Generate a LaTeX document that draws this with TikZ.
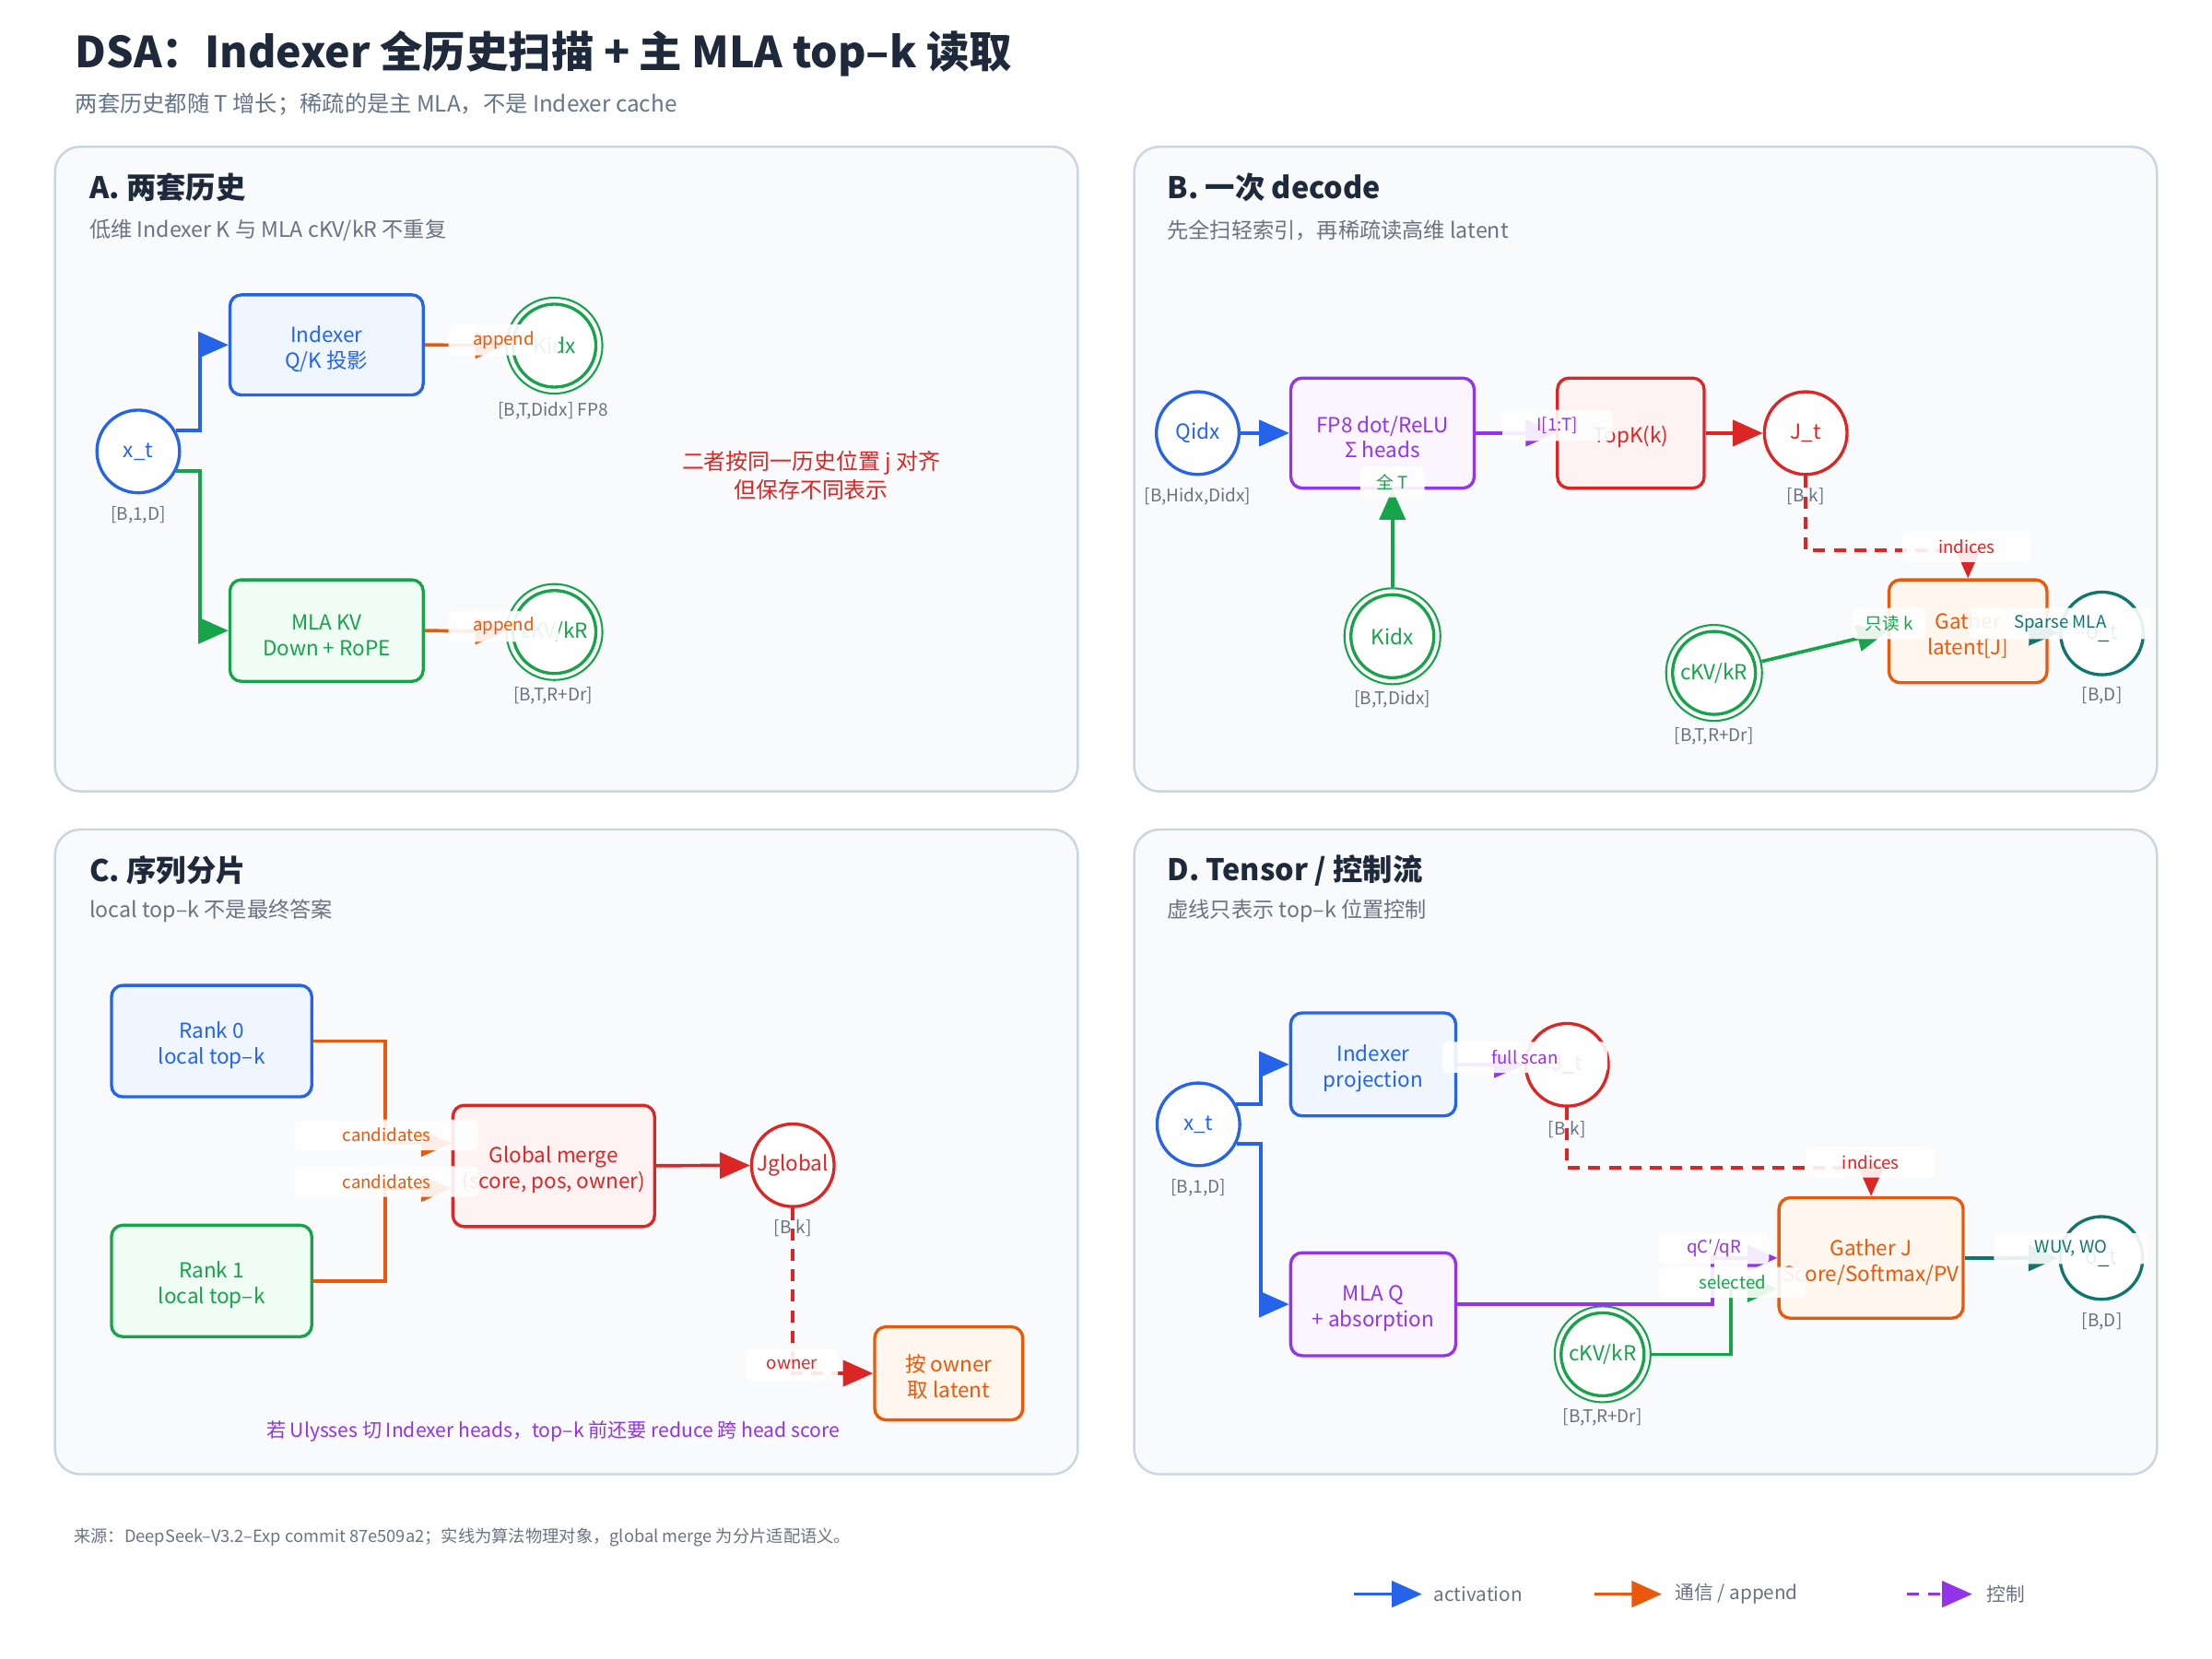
\documentclass[tikz,border=0pt]{standalone}
\usepackage{fontspec}
\setmainfont{Noto Sans CJK SC}
\usetikzlibrary{arrows.meta,calc}

\definecolor{cblue}{HTML}{2563EB}
\definecolor{cbluef}{HTML}{EFF6FF}
\definecolor{cgreen}{HTML}{16A34A}
\definecolor{cgreenf}{HTML}{F0FDF4}
\definecolor{cpurple}{HTML}{9333EA}
\definecolor{cpurplef}{HTML}{FAF5FF}
\definecolor{cred}{HTML}{DC2626}
\definecolor{credf}{HTML}{FEF2F2}
\definecolor{corange}{HTML}{EA580C}
\definecolor{corangef}{HTML}{FFF7ED}
\definecolor{cteal}{HTML}{0F766E}
\definecolor{ctitle}{HTML}{1E293B}
\definecolor{cmuted}{HTML}{64748B}
\definecolor{cdim}{HTML}{6B7280}
\definecolor{cpanel}{HTML}{F8FAFC}
\definecolor{cpanelline}{HTML}{CBD5E1}

\def\pxu{0.015306cm}
\newcommand{\setfs}[2]{\fontsize{#1pt}{#2pt}\selectfont}
% taller first line, so box texts sit a little below the box centre
\newcommand{\lift}{\rule{0pt}{7.6pt}}

\tikzset{
  nodefont/.style={font=\setfs{6.4}{7.9}},
  box/.style={draw, rounded corners=3.5pt, line width=0.95pt, align=center, inner sep=0pt, nodefont},
  bx/.style 2 args={minimum width=#1*\pxu, minimum height=#2*\pxu},
  tone/.style 2 args={draw=#1, fill=#2, text=#1},
  circ/.style={circle, draw, line width=0.95pt, fill=white, minimum size=58.6*\pxu, inner sep=0pt, nodefont},
  dcirc/.style={circle, draw, line width=0.6pt, fill=white, minimum size=68*\pxu, inner sep=0pt, nodefont},
  ring/.style={line width=0.95pt},
  dimlbl/.style={text=cdim, inner sep=0pt, font=\setfs{5.4}{6.5}},
  wire/.style={line width=1.05pt, -{Triangle[length=9.3pt,width=8pt]}},
  ctrl/.style={wire, dash pattern=on 3.7pt off 2.6pt},
  elbl/.style={fill=white, fill opacity=0.9, text opacity=1, rounded corners=1.7pt, minimum height=22*\pxu, inner sep=0pt, font=\setfs{5.3}{6.4}},
  lw/.style={minimum width=#1*13*\pxu},
  ptitle/.style={anchor=west, inner sep=0pt, text=ctitle, font=\bfseries\setfs{9.2}{11}},
  psub/.style={anchor=west, inner sep=0pt, text=cdim, font=\setfs{6.6}{8}},
  panel/.style={draw=cpanelline, fill=cpanel, line width=0.7pt, rounded corners=7.8pt},
  legtext/.style={anchor=west, inner sep=0pt, text=cdim, font=\setfs{5.9}{7}},
}

\begin{document}
\begin{tikzpicture}[x=0.015306cm, y=-0.015306cm]
\path[use as bounding box, fill=white] (0,0) rectangle (1568,1176);

% panels
\draw[panel] (39,104) rectangle (764,561);
\draw[panel] (804,104) rectangle (1529,561);
\draw[panel] (39,588) rectangle (764,1045);
\draw[panel] (804,588) rectangle (1529,1045);

% headings
\node[anchor=west, inner sep=0pt, text=ctitle, font=\bfseries\setfs{13.2}{16}] (title) at (53,38) {DSA：Indexer 全历史扫描 + 主 MLA top–k 读取};
\node[anchor=west, inner sep=0pt, text=cmuted, font=\setfs{6.9}{8}] (subtitle) at (53,74) {两套历史都随 T 增长；稀疏的是主 MLA，不是 Indexer cache};

\node[ptitle] (tA) at (63,133) {A. 两套历史};
\node[psub] (sA) at (63,163) {低维 Indexer K 与 MLA cKV/kR 不重复};
\node[ptitle] (tB) at (827,133) {B. 一次 decode};
\node[psub] (sB) at (827,163) {先全扫轻索引，再稀疏读高维 latent};
\node[ptitle] (tC) at (63,617) {C. 序列分片};
\node[psub] (sC) at (63,646) {local top–k 不是最终答案};
\node[ptitle] (tD) at (827,617) {D. Tensor / 控制流};
\node[psub] (sD) at (827,646) {虚线只表示 top–k 位置控制};

% ---------- A ----------
\node[circ, draw=cblue, text=cblue] (xtA) at (98,320) {x\_t};
\node[dimlbl] (dxtA) at (98,365) {[B,1,D]};
\node[box, tone={cblue}{cbluef}, bx={137}{71}] (idxA) at (231.5,244.5) {\lift Indexer\\Q/K 投影};
\node[box, tone={cgreen}{cgreenf}, bx={137}{72}] (kvA) at (231.5,447) {\lift MLA KV\\Down + RoPE};
\node[dcirc, draw=cgreen, text=cgreen] (kidxA) at (393,245) {Kidx};
\draw[ring, cgreen] (kidxA.center) circle[radius=29.4];
\node[dimlbl] (dkidxA) at (392,291) {[B,T,Didx] FP8};
\node[dcirc, draw=cgreen, text=cgreen] (ckvA) at (393,448) {cKV/kR};
\draw[ring, cgreen] (ckvA.center) circle[radius=29.4];
\node[dimlbl] (dckvA) at (392,493) {[B,T,R+Dr]};
\node[text=cred, align=center, font=\setfs{6.8}{8.7}] (noteA) at (575,337) {二者按同一历史位置 j 对齐\\但保存不同表示};

% ---------- B ----------
\node[circ, draw=cblue, text=cblue] (qidxB) at (849,307) {Qidx};
\node[dimlbl] (dqidxB) at (849,352) {[B,Hidx,Didx]};
\node[box, tone={cpurple}{cpurplef}, bx={130}{78}] (fp8B) at (980,307) {\lift FP8 dot/ReLU\\Σ heads};
\node[box, tone={cred}{credf}, bx={104}{78}] (topkB) at (1156,307) {\lift TopK(k)};
\node[circ, draw=cred, text=cred] (jtB) at (1280,307) {J\_t};
\node[dimlbl] (djtB) at (1280,352) {[B,k]};
\node[dcirc, draw=cgreen, text=cgreen] (kidxB) at (987,451) {Kidx};
\draw[ring, cgreen] (kidxB.center) circle[radius=29.4];
\node[dimlbl] (dkidxB) at (987,496) {[B,T,Didx]};
\node[dcirc, draw=cgreen, text=cgreen] (ckvB) at (1215,477) {cKV/kR};
\draw[ring, cgreen] (ckvB.center) circle[radius=29.4];
\node[dimlbl] (dckvB) at (1215,522) {[B,T,R+Dr]};
\node[box, tone={corange}{corangef}, bx={112}{73}] (gB) at (1395,447.5) {\lift Gather\\latent[J]};
\node[circ, draw=cteal, text=cteal] (otB) at (1490,449) {o\_t};
\node[dimlbl] (dotB) at (1490,493) {[B,D]};

% ---------- C ----------
\node[box, tone={cblue}{cbluef}, bx={142}{79}] (r0C) at (150,738) {\lift Rank 0\\local top–k};
\node[box, tone={cgreen}{cgreenf}, bx={142}{79}] (r1C) at (150,908) {\lift Rank 1\\local top–k};
\node[box, tone={cred}{credf}, bx={143}{86}] (gmC) at (392.5,826.5) {\lift Global merge\\(score, pos, owner)};
\node[circ, draw=cred, text=cred] (jgC) at (562,826) {Jglobal};
\node[dimlbl] (djgC) at (562,871) {[B,k]};
\node[box, tone={corange}{corangef}, bx={105}{66}] (owC) at (672.5,973.5) {\lift 按 owner\\取 latent};
\node[text=cpurple, font=\setfs{6}{7}] (noteC) at (392,1014.5) {若 Ulysses 切 Indexer heads，top–k 前还要 reduce 跨 head score};

% ---------- D ----------
\node[circ, draw=cblue, text=cblue] (xtD) at (849.5,797) {x\_t};
\node[dimlbl] (dxtD) at (849.5,842) {[B,1,D]};
\node[box, tone={cblue}{cbluef}, bx={117}{73}] (ipD) at (973.4,754.5) {\lift Indexer\\projection};
\node[box, tone={cpurple}{cpurplef}, bx={117}{73}] (mqD) at (973.4,924.5) {\lift MLA Q\\+ absorption};
\node[circ, draw=cred, text=cred] (jtD) at (1110.8,754.8) {J\_t};
\node[dimlbl] (djtD) at (1110.8,801) {[B,k]};
\node[dcirc, draw=cgreen, text=cgreen] (ckvD) at (1136,960) {cKV/kR};
\draw[ring, cgreen] (ckvD.center) circle[radius=29.4];
\node[dimlbl] (dckvD) at (1136,1005) {[B,T,R+Dr]};
\node[box, tone={corange}{corangef}, bx={130.6}{85.4}] (gD) at (1326.3,891.7) {\lift Gather J\\Score/Softmax/PV};
\node[circ, draw=cteal, text=cteal] (otD) at (1489.6,891.7) {o\_t};
\node[dimlbl] (dotD) at (1490,936.6) {[B,D]};

% ---------- connectors ----------
\draw[wire, cblue] (xtA.29) -| ($(idxA.west)+(-20,0)$) -- (idxA.west);
\draw[wire, cgreen] (xtA.-27) -| ($(kvA.west)+(-20,0)$) -- (kvA.west);
\draw[wire, corange] (idxA.east) -- (kidxA);
\draw[wire, corange] (kvA.east) -- (ckvA);

\draw[wire, cblue] (qidxB) -- (fp8B);
\draw[wire, cpurple] (fp8B) -- (topkB);
\draw[wire, cred] (topkB) -- (jtB);
\draw[wire, cgreen] (kidxB) -- (kidxB |- fp8B.south);
\draw[ctrl, cred] (jtB.south) |- ($(gB.north)+(0,-20)$) -- (gB.north);
\draw[wire, cgreen] (ckvB) -- (gB.west);
\draw[wire, cteal] (gB) -- (otB);

\draw[wire, corange] (r0C.east) -| ($(gmC.west)+(-47,-16)$) -- ($(gmC.west)+(0,-16)$);
\draw[wire, corange] (r1C.east) -| ($(gmC.west)+(-47,16)$) -- ($(gmC.west)+(0,16)$);
\draw[wire, cred] (gmC) -- (jgC);
\draw[ctrl, cred] (jgC.south) |- (owC.west);

\draw[wire, cblue] (xtD.28) -| ($(ipD.west)+(-20,0)$) -- (ipD.west);
\draw[wire, cblue] (xtD.-27) -| ($(mqD.west)+(-20,0)$) -- (mqD.west);
\draw[wire, cpurple] (ipD) -- (jtD);
\draw[ctrl, cred] (jtD.south) |- ($(gD.north)+(0,-20)$) -- (gD.north);
\draw[wire, cpurple] (mqD.east) -| ($(gD.west)+(-46,0)$) -- (gD.west);
\draw[wire, cgreen] (ckvD.east) -| ($(gD.west)+(-33,22)$) -- ($(gD.west)+(0,22)$);
\draw[wire, cteal] (gD) -- (otD);

% ---------- connector labels ----------
\node[elbl, lw=6, text=corange] (lapA1) at (357,241) {append};
\node[elbl, lw=6, text=corange] (lapA2) at (357,444) {append};
\node[elbl, lw=6, text=cpurple] (lscB) at (1104,301.5) {I[1:T]};
\node[elbl, lw=3.5, text=cgreen] (lallB) at (987,341.5) {全 T};
\node[elbl, lw=7, text=cred] (lindB) at (1394,387.5) {indices};
\node[elbl, lw=4, text=cgreen] (lrdB) at (1339,442) {只读 k};
\node[elbl, lw=10, text=cteal] (lspB) at (1460.5,442) {Sparse MLA};

\node[elbl, lw=10, text=corange] (lc1C) at (274,804.5) {candidates};
\node[elbl, lw=10, text=corange] (lc2C) at (274,837.5) {candidates};
\node[elbl, lw=5, text=cred] (lowC) at (561.5,967.5) {owner};

\node[elbl, lw=9, text=cpurple] (lfsD) at (1081,749.5) {full scan};
\node[elbl, lw=7, text=cred] (lindD) at (1326,823.7) {indices};
\node[elbl, lw=6, text=cpurple] (lqD) at (1215,885) {qC′/qR};
\node[elbl, lw=8, text=cgreen] (lselD) at (1228,909) {selected};
\node[elbl, lw=8.4, text=cteal] (lwD) at (1468,885) {WUV, WO};

% ---------- footer ----------
\node[anchor=west, inner sep=0pt, text=cdim, font=\setfs{5.2}{6.2}] (foot) at (52,1090) {来源：DeepSeek–V3.2–Exp commit 87e509a2；实线为算法物理对象，global merge 为分片适配语义。};

\coordinate (lgBa) at (960,1130);  \coordinate (lgBb) at (1008,1130);
\coordinate (lgOa) at (1130,1130); \coordinate (lgOb) at (1178,1130);
\coordinate (lgPa) at (1352,1130); \coordinate (lgPb) at (1398,1130);
\draw[wire, cblue] (lgBa) -- (lgBb);
\draw[wire, corange] (lgOa) -- (lgOb);
\draw[ctrl, cpurple] (lgPa) -- (lgPb);
\node[legtext] (lgBt) at (1016,1130) {activation};
\node[legtext] (lgOt) at (1187,1130) {通信 / append};
\node[legtext] (lgPt) at (1408,1130) {控制};
\end{tikzpicture}
\end{document}
